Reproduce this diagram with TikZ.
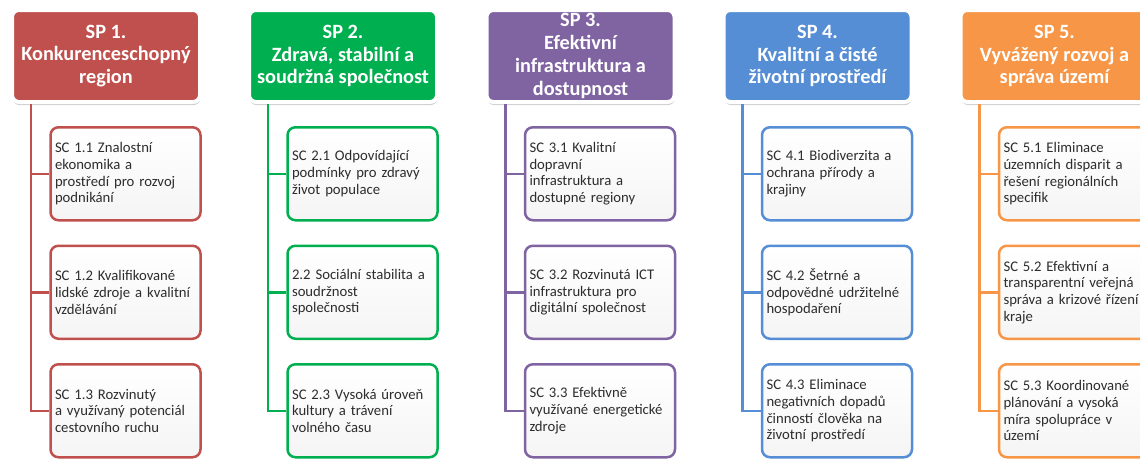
\documentclass[tikz,border=0pt]{standalone}
\usepackage{fontspec}
\setmainfont{Carlito}
\usetikzlibrary{positioning, shadows}
\definecolor{SPRed}{RGB}{192,80,77}
\definecolor{SPGreen}{RGB}{0,176,80}
\definecolor{SPPurple}{RGB}{128,100,162}
\definecolor{SPBlue}{RGB}{85,142,213}
\definecolor{SPOrange}{RGB}{247,150,70}
\definecolor{TextGrey}{RGB}{45,45,45}

\begin{document}
\begin{tikzpicture}[
    node distance = 23pt,
    head/.style = {rectangle, minimum width=188pt, minimum height=92pt, inner sep=0pt, rounded corners=7pt, draw=white, line width=4pt, align=center, text=white, font=\fontsize{20.3}{22.8}\selectfont\bfseries, drop shadow={shadow xshift=0.5pt, shadow yshift=-3pt, opacity=0.4}},
    goal/.style = {rectangle, minimum height=93pt, text width=141pt, inner xsep=4.5pt, rounded corners=8pt, line width=2.5pt, top color=white, bottom color=black!4, text=TextGrey, align=left, font=\fontsize{14.7}{16.7}\selectfont},
    red/.style = {head, fill=SPRed},
    green/.style = {head, fill=SPGreen},
    purple/.style = {head, fill=SPPurple},
    blue/.style = {head, fill=SPBlue},
    orange/.style = {head, fill=SPOrange},
    link/.style = {line width=2.5pt}
]
% Fix the canvas to the page size
\useasboundingbox (0,0) rectangle (1140pt,-458pt);
% Priority headers
\node[red] (h1) at (106pt,-56pt) {SP 1.\\Konkurenceschopný\\region};
\node[green] (h2) at (343pt,-56pt) {SP 2.\\Zdravá, stabilní a\\soudržná společnost};
\node[purple] (h3) at (580.5pt,-56pt) {SP 3.\\Efektivní\\infrastruktura a\\dostupnost};
\node[blue] (h4) at (817.5pt,-56pt) {SP 4.\\Kvalitní a čisté\\životní prostředí};
\node[orange] (h5) at (1054.5pt,-56pt) {SP 5.\\Vyvážený rozvoj a\\správa území};
% SP 1 goals
\node[goal, draw=SPRed, below=22pt of h1, xshift=19.5pt] (a1) {SC 1.1 Znalostní\\ekonomika a\\prostředí pro rozvoj\\podnikání};
\node[goal, draw=SPRed, below=of a1] (a2) {SC 1.2 Kvalifikované\\lidské zdroje a kvalitní\\vzdělávání};
\node[goal, draw=SPRed, below=of a2] (a3) {SC 1.3 Rozvinutý\\a využívaný potenciál\\cestovního ruchu};
% SP 2 goals
\node[goal, draw=SPGreen, below=22pt of h2, xshift=19.5pt] (b1) {SC 2.1 Odpovídající\\podmínky pro zdravý\\život populace};
\node[goal, draw=SPGreen, below=of b1] (b2) {2.2 Sociální stabilita a\\soudržnost\\společnosti};
\node[goal, draw=SPGreen, below=of b2] (b3) {SC 2.3 Vysoká úroveň\\kultury a trávení\\volného času};
% SP 3 goals
\node[goal, draw=SPPurple, below=22pt of h3, xshift=19.5pt] (c1) {SC 3.1 Kvalitní\\dopravní\\infrastruktura a\\dostupné regiony};
\node[goal, draw=SPPurple, below=of c1] (c2) {SC 3.2 Rozvinutá ICT\\infrastruktura pro\\digitální společnost};
\node[goal, draw=SPPurple, below=of c2] (c3) {SC 3.3 Efektivně\\využívané energetické\\zdroje};
% SP 4 goals
\node[goal, draw=SPBlue, below=22pt of h4, xshift=19.5pt] (d1) {SC 4.1 Biodiverzita a\\ochrana přírody a\\krajiny};
\node[goal, draw=SPBlue, below=of d1] (d2) {SC 4.2 Šetrné a\\odpovědné udržitelné\\hospodaření};
\node[goal, draw=SPBlue, below=of d2] (d3) {SC 4.3 Eliminace\\negativních dopadů\\činností člověka na\\životní prostředí};
% SP 5 goals
\node[goal, draw=SPOrange, below=22pt of h5, xshift=19.5pt] (e1) {SC 5.1 Eliminace\\územních disparit a\\řešení regionálních\\specifik};
\node[goal, draw=SPOrange, below=of e1] (e2) {SC 5.2 Efektivní a\\transparentní veřejná\\správa a krizové řízení\\kraje};
\node[goal, draw=SPOrange, below=of e2] (e3) {SC 5.3 Koordinované\\plánování a vysoká\\míra spolupráce v\\území};

% Tree connectors
\draw[link, SPRed] ([xshift=21pt]h1.south west) |- (a1.west);
\draw[link, SPRed] ([xshift=21pt]h1.south west) |- (a2.west);
\draw[link, SPRed] ([xshift=21pt]h1.south west) |- (a3.west);
\draw[link, SPGreen] ([xshift=21pt]h2.south west) |- (b1.west);
\draw[link, SPGreen] ([xshift=21pt]h2.south west) |- (b2.west);
\draw[link, SPGreen] ([xshift=21pt]h2.south west) |- (b3.west);
\draw[link, SPPurple] ([xshift=21pt]h3.south west) |- (c1.west);
\draw[link, SPPurple] ([xshift=21pt]h3.south west) |- (c2.west);
\draw[link, SPPurple] ([xshift=21pt]h3.south west) |- (c3.west);
\draw[link, SPBlue] ([xshift=21pt]h4.south west) |- (d1.west);
\draw[link, SPBlue] ([xshift=21pt]h4.south west) |- (d2.west);
\draw[link, SPBlue] ([xshift=21pt]h4.south west) |- (d3.west);
\draw[link, SPOrange] ([xshift=21pt]h5.south west) |- (e1.west);
\draw[link, SPOrange] ([xshift=21pt]h5.south west) |- (e2.west);
\draw[link, SPOrange] ([xshift=21pt]h5.south west) |- (e3.west);
\end{tikzpicture}
\end{document}
